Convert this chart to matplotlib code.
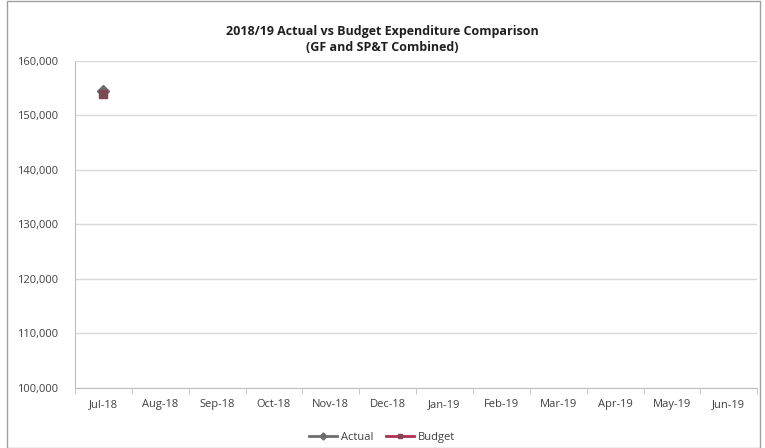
import numpy as np
import matplotlib.pyplot as plt
from matplotlib.ticker import FuncFormatter

months = ["Jul-18", "Aug-18", "Sep-18", "Oct-18", "Nov-18", "Dec-18",
          "Jan-19", "Feb-19", "Mar-19", "Apr-19", "May-19", "Jun-19"]
actual = [154500] + [np.nan] * 11
budget = [154000] + [np.nan] * 11

plt.rcParams['font.family'] = ['Open Sans', 'DejaVu Sans']

fig = plt.figure(figsize=(7.65, 4.48), dpi=100)
ax = fig.add_axes([0.098, 0.134, 0.892, 0.73])

x = np.arange(len(months))
ax.plot(x, actual, color="#6d6d6d", marker="D", markersize=6, lw=2, label="Actual", zorder=3)
ax.plot(x, budget, color="#b03050", marker="s", markersize=6, lw=2,
        markerfacecolor="#7a4a55", markeredgecolor="#8a4055", label="Budget", zorder=4)

ax.set_xlim(-0.5, len(months) - 0.5)
ax.set_ylim(100000, 160000)
ax.set_yticks(np.arange(100000, 160001, 10000))
ax.yaxis.set_major_formatter(FuncFormatter(lambda v, p: f"{int(v):,}"))
ax.set_xticks(x)
ax.set_xticklabels(months)
ax.set_xticks(np.arange(-0.5, len(months), 1), minor=True)

ax.grid(axis="y", color="#d9d9d9", lw=1)
ax.set_axisbelow(True)
for s in ["top", "right"]:
    ax.spines[s].set_visible(False)
ax.spines["left"].set_color("#bfbfbf")
ax.spines["bottom"].set_color("#bfbfbf")
ax.tick_params(axis="y", length=0, labelsize=8, colors="#404040", pad=12)
ax.tick_params(axis="x", which="major", length=0, labelsize=8, colors="#404040", pad=8)
ax.tick_params(axis="x", which="minor", length=4, color="#bfbfbf")

fig.suptitle("2018/19 Actual vs Budget Expenditure Comparison\n(GF and SP&T Combined)",
             fontsize=9, fontweight="bold", color="#202020", y=0.945, linespacing=1.3)

ax.legend(loc="center", bbox_to_anchor=(0.45, -0.15), ncol=2, frameon=False,
          fontsize=8, labelcolor="#404040", handlelength=2.5, columnspacing=1.2,
          handletextpad=0.3, markerscale=0.6)

# outer chart border
fig.patches.append(plt.Rectangle((0.009, 0.0), 0.985, 0.998, transform=fig.transFigure,
                                 fill=False, edgecolor="#a0a0a0", lw=1))

plt.savefig("out.png", dpi=100)
